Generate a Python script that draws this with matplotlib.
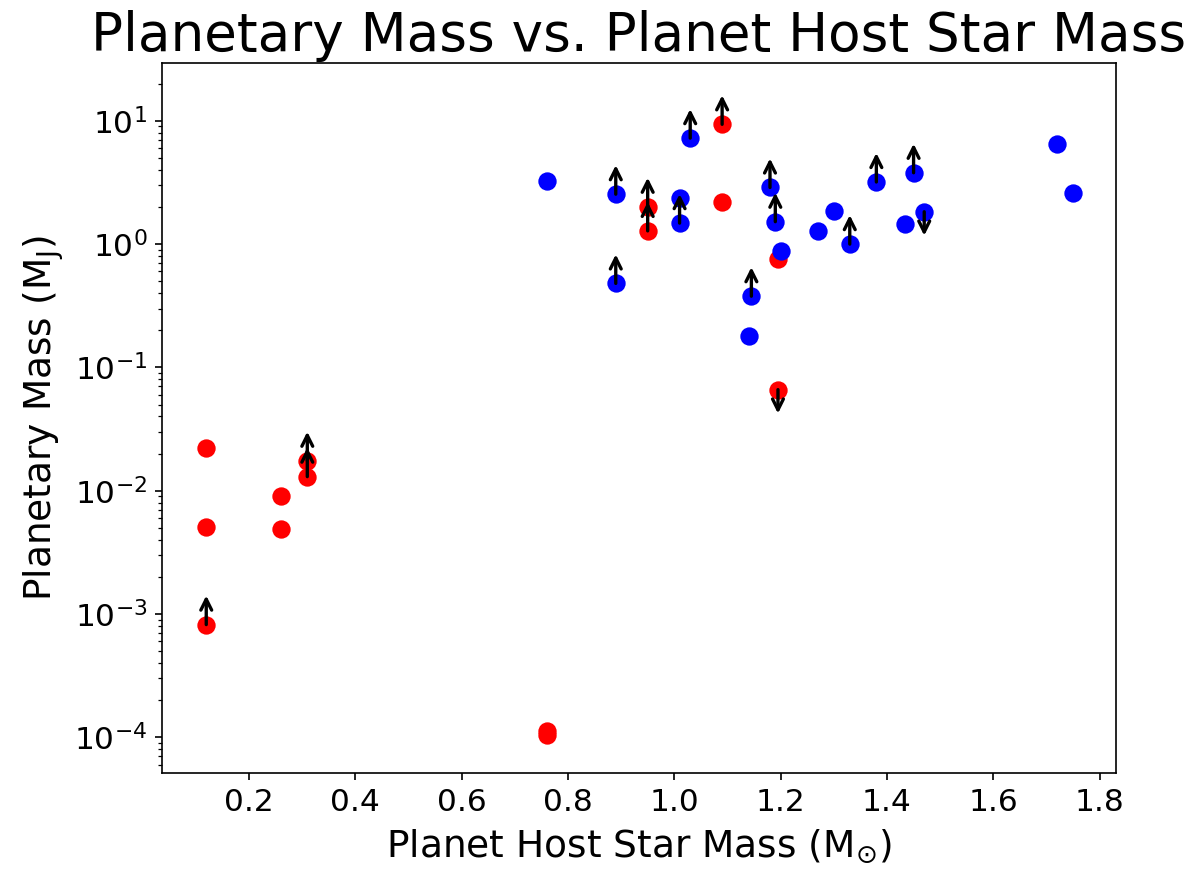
import numpy as np
import matplotlib
matplotlib.use('Agg')
import matplotlib.pyplot as plt

# host star mass (Msun), planet mass (MJ), limit flag: 1 = lower limit (arrow up), -1 = upper limit (arrow down)
red_x = [0.12, 0.12, 0.12, 0.26, 0.26, 0.31, 0.31, 0.76, 0.76, 0.95, 0.95, 1.09, 1.09, 1.195, 1.195]
red_y = [0.022, 0.0051, 0.00082, 0.009, 0.0049, 0.0175, 0.013, 1.12e-4, 1.05e-4, 2.01, 1.28, 9.37, 2.19, 0.76, 0.066]
red_lim = [0, 0, 1, 0, 0, 1, 1, 0, 0, 1, 1, 1, 0, 0, -1]

blue_x = [0.76, 0.89, 0.89, 1.01, 1.01, 1.03, 1.18, 1.19, 1.20, 1.145, 1.14, 1.27, 1.30, 1.33, 1.38, 1.434, 1.45, 1.47, 1.72, 1.75]
blue_y = [3.22, 2.54, 0.48, 2.37, 1.48, 7.24, 2.88, 1.52, 0.873, 0.378, 0.179, 1.27, 1.85, 1.0, 3.19, 1.46, 3.79, 1.83, 6.43, 2.58]
blue_lim = [0, 1, 1, 0, 1, 1, 1, 1, 0, 1, 0, 0, 0, 1, 1, 0, 1, -1, 0, 0]

up_fac = 1.72    # arrow tip / value for lower limits
down_fac = 0.64  # arrow tip / value for upper limits

dpi = 150
fig = plt.figure(figsize=(1199 / dpi, 873 / dpi), dpi=dpi)
ax = fig.add_axes([162 / 1199, 100 / 873, (1116 - 162) / 1199, (773 - 63) / 873])

ax.plot(red_x, red_y, 'o', color='red', ms=8.8, mec='none')
ax.plot(blue_x, blue_y, 'o', color='blue', ms=8.8, mec='none')

# limit arrows
for xs, ys, lims in [(red_x, red_y, red_lim), (blue_x, blue_y, blue_lim)]:
    for x, y, lim in zip(xs, ys, lims):
        if lim == 0:
            continue
        tip = y * (up_fac if lim > 0 else down_fac)
        ax.annotate('', xy=(x, tip), xytext=(x, y),
                    arrowprops=dict(arrowstyle='->', color='k', lw=1.6,
                                    shrinkA=0, shrinkB=0, mutation_scale=13))

ax.set_yscale('log')
ax.set_ylim(10 ** -4.29, 10 ** 1.469)
ax.set_xlim(0.0368, 1.8306)
ax.set_xticks([0.2, 0.4, 0.6, 0.8, 1.0, 1.2, 1.4, 1.6, 1.8])

ax.tick_params(labelsize=15)
ax.set_xlabel(r'Planet Host Star Mass (M$_{\odot}$)', fontsize=18, labelpad=5)
ax.set_ylabel(r'Planetary Mass (M$_\mathrm{J}$)', fontsize=18)
ax.set_title('Planetary Mass vs. Planet Host Star Mass', fontsize=25.5)

fig.savefig('out.png', dpi=dpi)
